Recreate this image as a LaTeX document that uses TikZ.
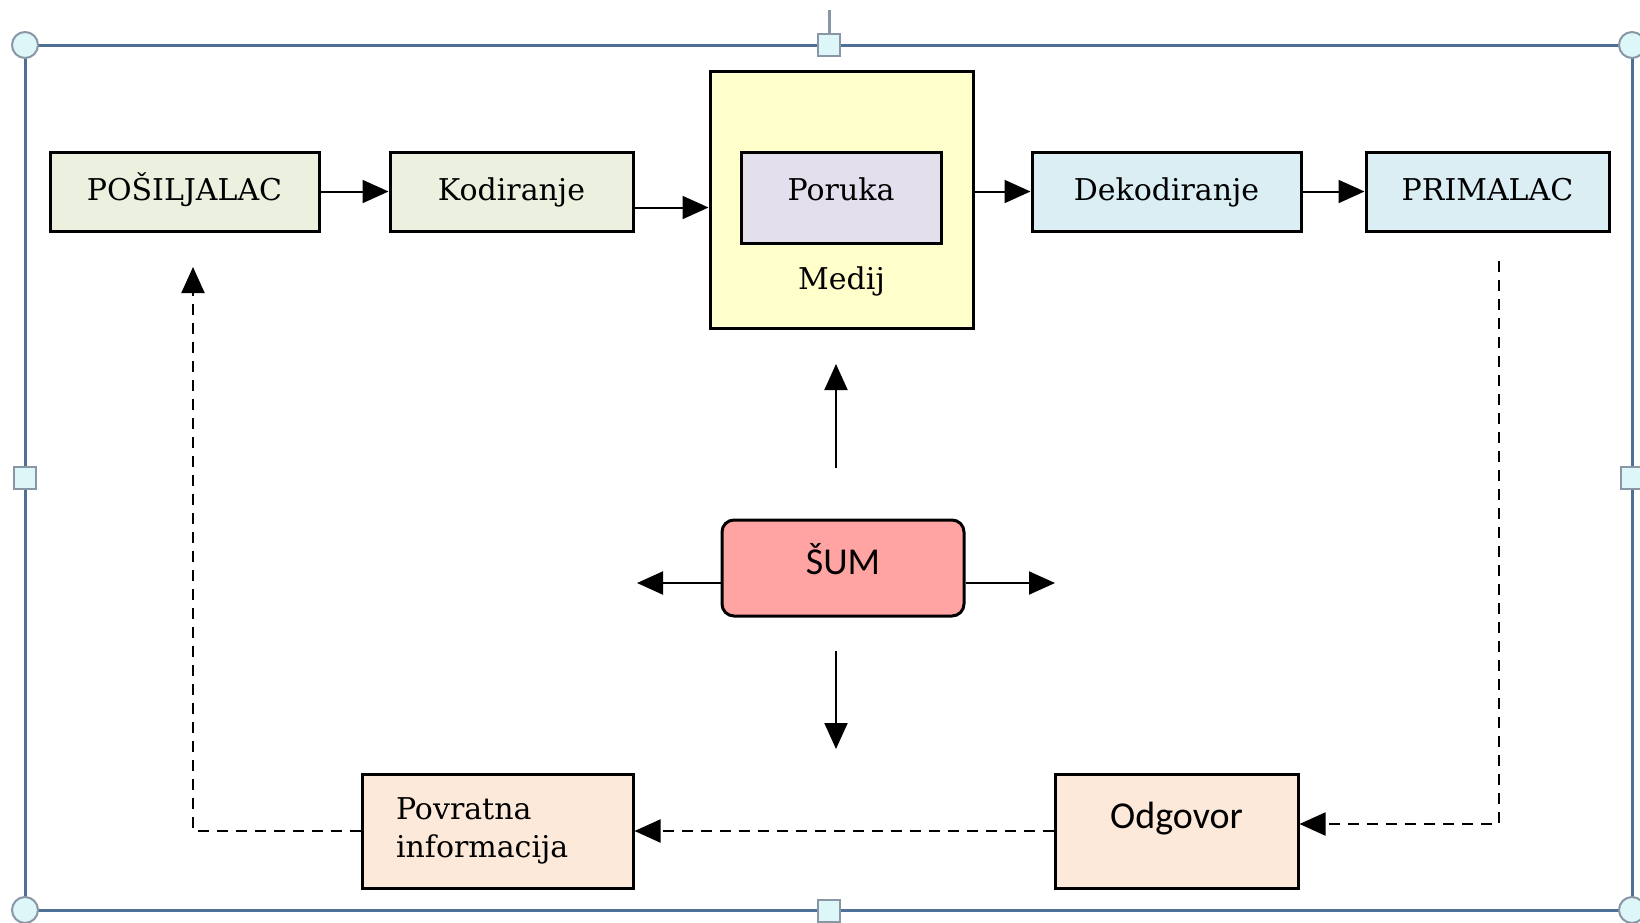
\documentclass[tikz,border=0pt]{standalone}
\usepackage{fontspec}
\setmainfont{DejaVu Serif}
\newfontfamily\calibri{Carlito}
\usetikzlibrary{arrows.meta,positioning,calc}
\definecolor{zelena}{HTML}{EBF1DE}
\definecolor{zuta}{HTML}{FFFFCC}
\definecolor{ljubicasta}{HTML}{E4DFEC}
\definecolor{plava}{HTML}{DAEEF3}
\definecolor{roza}{HTML}{FFA3A3}
\definecolor{breskva}{HTML}{FDE9D9}
\definecolor{okvirplava}{HTML}{4E7096}
\definecolor{ruckasiva}{HTML}{8896A6}
\definecolor{ruckafill}{HTML}{DDF6F8}
\tikzset{
  kutija/.style={draw,line width=1.5pt,minimum height=39.5pt,inner sep=0pt},
  jedanred/.style={text height=11pt,text depth=2.5pt},
  strelica/.style={line width=1pt,-{Triangle[length=13pt,width=11.5pt]}},
  crtkano/.style={strelica,dash pattern=on 5.5pt off 4pt},
  okvir/.style={draw=okvirplava,line width=1.5pt},
  rucka/.style={draw=ruckasiva,line width=1pt,fill=ruckafill},
}

\begin{document}
\begin{tikzpicture}[x=0.5pt,y=-0.5pt,font=\fontsize{15}{19}\selectfont]
  \useasboundingbox (0,0) rectangle (1640,922);
  % okvir sa ruckama
  \draw[okvir] (25,45) rectangle (1632,910);
  \draw[ruckasiva,line width=1.5pt] (829,10) -- (829,34);
  \foreach \x/\y in {25/45,1632/45,25/910,1632/910}
    \draw[rucka] (\x,\y) circle[radius=6.5pt];
  \foreach \x/\y in {829/45,25/478,1632/478,829/911}
    \draw[rucka] (\x-11,\y-11) rectangle (\x+11,\y+11);

  % gornji red
  \node[kutija,jedanred,fill=zelena,minimum width=134.5pt] (posiljalac) at (184.5,191.5) {POŠILJALAC};
  \node[kutija,jedanred,fill=zelena,minimum width=121.5pt] (kodiranje) at (511.5,191.5) {Kodiranje};
  \node[kutija,fill=zuta,minimum width=131.5pt,minimum height=128.5pt,
        label={[anchor=center,yshift=24pt]south:Medij}] (medij) at (841.5,199.5) {};
  \node[kutija,fill=ljubicasta,minimum width=100pt,minimum height=45.5pt,
        text height=11pt,text depth=8.5pt] (poruka) at (841,197.5) {Poruka};
  \node[kutija,jedanred,fill=plava,minimum width=134.5pt] (dekodiranje) at (1166.5,191.5) {Dekodiranje};
  \node[kutija,jedanred,fill=plava,minimum width=121.5pt] (primalac) at (1487.5,191.5) {PRIMALAC};

  % sum
  \node[kutija,fill=roza,rounded corners=6pt,minimum width=121pt,minimum height=48pt,
        text height=13pt,text depth=7pt,font=\calibri\fontsize{19}{22}\selectfont] (sum) at (843,568) {ŠUM};

  % donji red
  \node[kutija,fill=breskva,minimum width=135.5pt,minimum height=57pt,text width=101.5pt,
        align=left] (povratna) at (497.5,831) {Povratna\\informacija};
  \node[kutija,fill=breskva,minimum width=121.5pt,minimum height=57pt,align=center,
        font=\calibri\fontsize{19}{12}\selectfont] (odgovor) at (1176.5,831) {Odgovor\\\strut};

  \draw[strelica] (posiljalac) -- (kodiranje);
  \draw[strelica] ([yshift=-8pt]kodiranje.east) -- ([yshift=-8pt]kodiranje.east -| medij.west);
  \draw[strelica] (dekodiranje.west -| medij.east) -- (dekodiranje.west);
  \draw[strelica] (dekodiranje) -- (primalac);

  \coordinate (gore1) at (836,468); \coordinate (gore2) at (836,364);
  \coordinate (dole1) at (836,651); \coordinate (dole2) at (836,749);
  \coordinate (levo) at (637,583); \coordinate (desno) at (1055,583);
  \draw[strelica] (gore1) -- (gore2);
  \draw[strelica] (dole1) -- (dole2);
  \draw[strelica] (sum.west |- levo) -- (levo);
  \draw[strelica] (sum.east |- desno) -- (desno);

  % povratna sprega
  \coordinate (pr1) at (1499,261);
  \coordinate (po1) at (193,267);
  \draw[crtkano] (pr1) |- ([yshift=3.5pt]odgovor.east);
  \draw[crtkano] (odgovor.west |- povratna) -- (povratna);
  \draw[crtkano] (povratna.west) -| (po1);
\end{tikzpicture}
\end{document}
